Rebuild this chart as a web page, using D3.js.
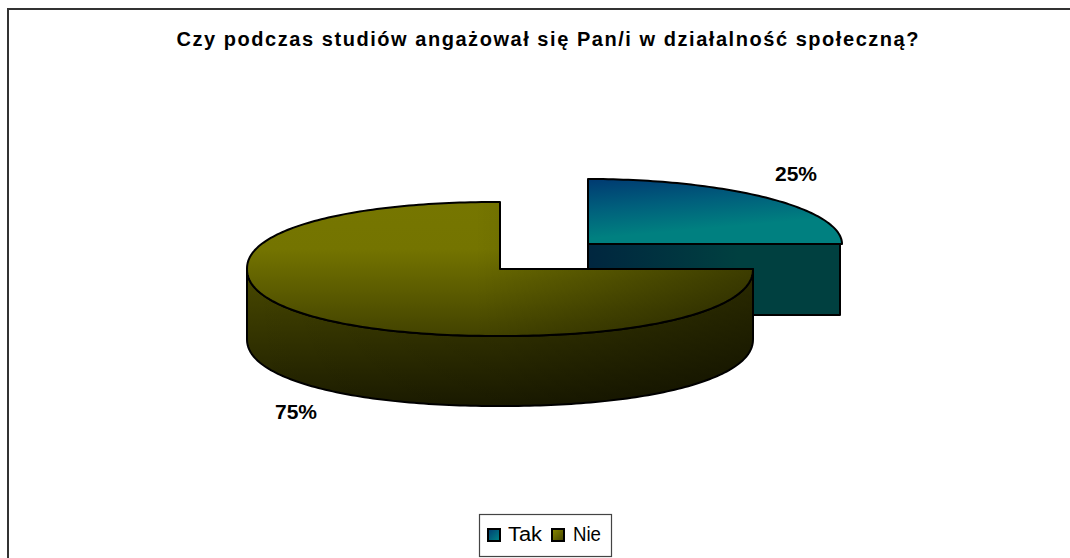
<!DOCTYPE html>
<html><head><meta charset="utf-8">
<script src="https://cdn.jsdelivr.net/npm/d3@7"></script>
<style>html,body{margin:0;padding:0;background:#fff}svg{display:block}text{font-family:"Liberation Sans",Arial,sans-serif;fill:#000}</style>
</head><body><div id="c"></div>
<script>
const categories = ["Tak", "Nie"];
const values = [25, 75];
const labels = ["25%", "75%"];
const titleText = "Czy podczas studiów angażował się Pan/i w działalność społeczną?";

const W = 1070, H = 558;
const svg = d3.select("#c").append("svg").attr("width", W).attr("height", H);
const defs = svg.append("defs");

function grad(id, x1, y1, x2, y2, stops) {
  const g = defs.append("linearGradient").attr("id", id)
    .attr("x1", x1).attr("y1", y1).attr("x2", x2).attr("y2", y2);
  stops.forEach(s => g.append("stop").attr("offset", s[0]).attr("stop-color", s[1]).attr("stop-opacity", s[2] === undefined ? 1 : s[2]));
}
grad("tealTop", 0.08, 0, 0.42, 1, [[0, "#003c72"], [0.4, "#005f7c"], [0.8, "#008080"], [1, "#008080"]]);
grad("tealWall", 0, 0, 1, 0, [[0, "#00263f"], [0.6, "#004040"], [1, "#004040"]]);
grad("oliveTop", 0, 0, 0, 1, [[0, "#767600"], [0.35, "#747400"], [1, "#424200"]]);
grad("oliveTopShade", 0, 0, 1, 0, [[0, "#000", 0], [0.45, "#000", 0], [1, "#000", 0.42]]);
grad("oliveWall", 0, 0, 0, 1, [[0, "#4a4a00"], [1, "#1c1c00"]]);
grad("oliveWallShade", 0, 0, 1, 0, [[0, "#000", 0], [0.5, "#000", 0.12], [1, "#000", 0.42]]);
grad("legTak", 0, 0, 1, 1, [[0, "#003c72"], [1, "#008888"]]);
grad("legNie", 0, 0, 1, 1, [[0, "#8a8a00"], [1, "#424200"]]);

// frame: top and left rules only, as in the reference
svg.append("path").attr("d", "M8,558V9H1070").attr("fill", "none").attr("stroke", "#333").attr("stroke-width", 2);

// title
svg.append("text").attr("x", 547.5).attr("y", 46).attr("text-anchor", "middle")
  .attr("font-size", 20).attr("font-weight", "bold").attr("textLength", 742)
  .attr("lengthAdjust", "spacing").text(titleText);

// pie geometry from the data
const pie = d3.pie().sort(null).value(d => d)(values);
const layout = [
  {cx: 588, cy: 244, rx: 254, ry: 65, depth: 71, exp: 1, top: "tealTop", wall: "tealWall"},
  {cx: 500, cy: 269, rx: 253, ry: 67, depth: 70, exp: 0.93, top: "oliveTop", wall: "oliveWall", topShade: "oliveTopShade", wallShade: "oliveWallShade"}
];
const line = d3.line();
const spow = (v, e) => Math.sign(v) * Math.pow(Math.abs(v), e);
function arcPts(l, a0, a1, dy) {
  const n = Math.max(2, Math.ceil((a1 - a0) / 0.02));
  return d3.range(n + 1).map(i => {
    const a = a0 + (a1 - a0) * i / n;
    return [l.cx + l.rx * spow(Math.sin(a), l.exp), l.cy - l.ry * spow(Math.cos(a), l.exp) + (dy || 0)];
  });
}
function draw(i) {
  const p = pie[i], l = layout[i], a0 = p.startAngle, a1 = p.endAngle;
  const g = svg.append("g").attr("stroke", "#000").attr("stroke-width", 2).attr("stroke-linejoin", "round");
  const c = [l.cx, l.cy];
  if (i === 0) {
    const right = [l.cx + l.rx - 2, l.cy];
    const wall = [c, right, [right[0], right[1] + l.depth], [c[0], c[1] + l.depth]];
    g.append("path").attr("d", line(wall) + "Z").attr("fill", `url(#${l.wall})`);
  } else {
    const front = arcPts(l, a0, Math.PI * 1.5, 0);
    const bottom = arcPts(l, a0, Math.PI * 1.5, l.depth).reverse();
    const d = line(front.concat(bottom)) + "Z";
    g.append("path").attr("d", d).attr("fill", `url(#${l.wall})`);
    g.append("path").attr("d", d).attr("fill", `url(#${l.wallShade})`).attr("stroke", "none");
  }
  const td = line([c].concat(arcPts(l, a0, a1, 0))) + "Z";
  g.append("path").attr("d", td).attr("fill", `url(#${l.top})`);
  if (l.topShade) g.append("path").attr("d", td).attr("fill", `url(#${l.topShade})`).attr("stroke", "none");
}
draw(0);
draw(1);

// data labels
const labelPos = [[796, 181], [296, 419]];
labels.forEach((t, i) => svg.append("text").attr("x", labelPos[i][0]).attr("y", labelPos[i][1])
  .attr("text-anchor", "middle").attr("font-size", 21).attr("font-weight", "bold").text(t));

// legend
svg.append("rect").attr("x", 479.5).attr("y", 514.5).attr("width", 132).attr("height", 42)
  .attr("fill", "#fff").attr("stroke", "#444").attr("stroke-width", 1.2);
const legX = [[488, 508, 34], [552, 573, 28]];
categories.forEach((t, i) => {
  svg.append("rect").attr("x", legX[i][0]).attr("y", 529).attr("width", 12).attr("height", 12)
    .attr("fill", `url(#${i ? "legNie" : "legTak"})`).attr("stroke", "#000").attr("stroke-width", 2);
  svg.append("text").attr("x", legX[i][1]).attr("y", 541).attr("font-size", 20)
    .attr("textLength", legX[i][2]).attr("lengthAdjust", "spacingAndGlyphs").text(t);
});
</script></body></html>
